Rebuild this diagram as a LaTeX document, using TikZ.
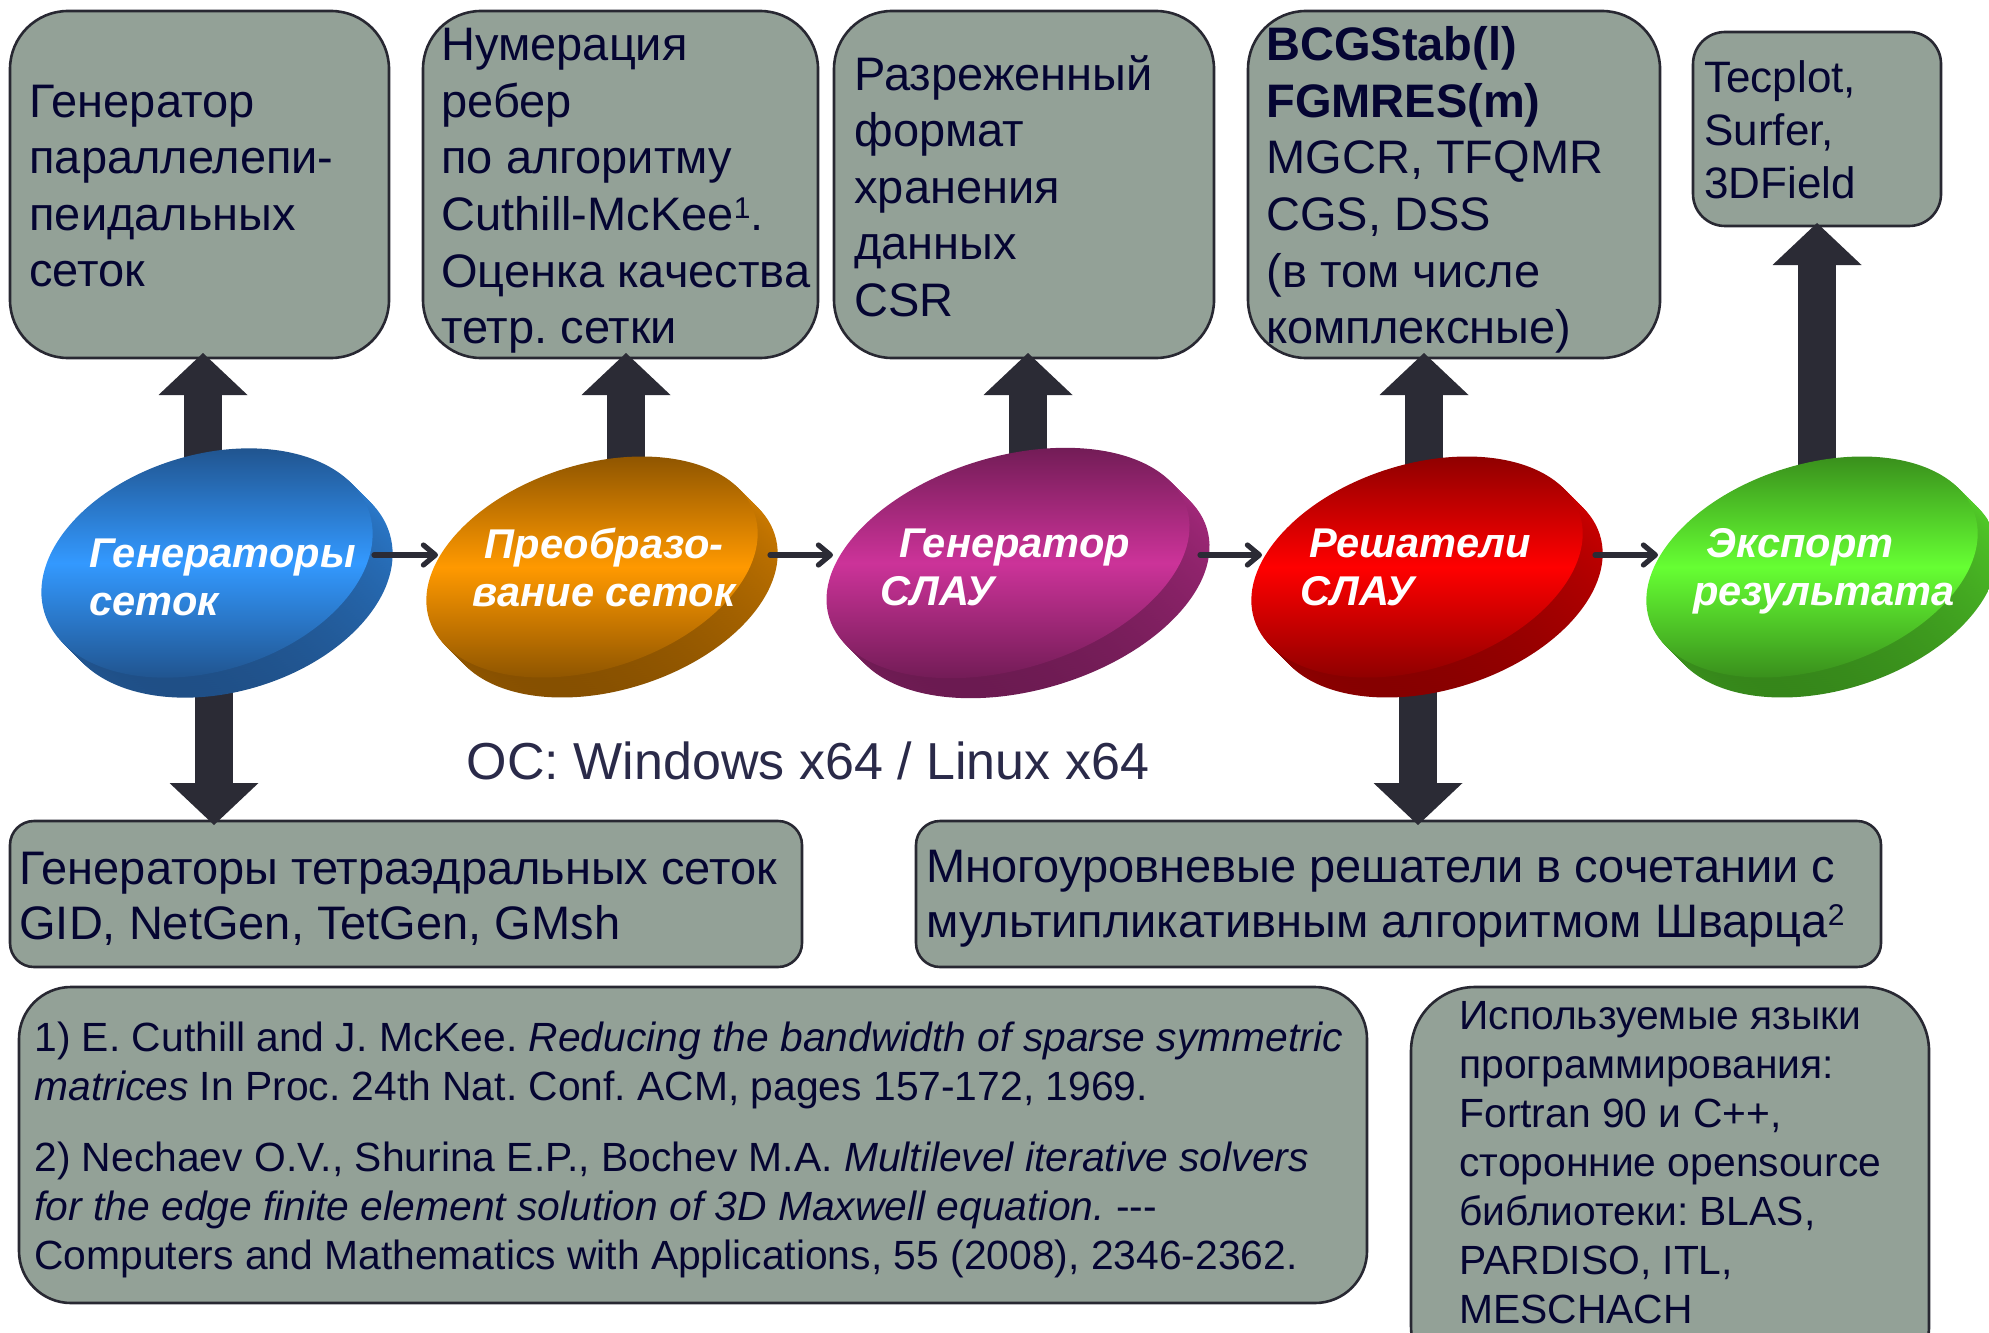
\documentclass[tikz,border=0pt]{standalone}
\usepackage{fontspec}
\setmainfont{Liberation Sans}
\usetikzlibrary{arrows.meta,calc}
\definecolor{boxfill}{RGB}{147,161,151}
\definecolor{boxline}{RGB}{40,40,50}
\definecolor{txtc}{RGB}{5,5,50}
\definecolor{arrc}{RGB}{43,43,53}
\definecolor{bluelight}{RGB}{51,153,255}\definecolor{bluedark}{RGB}{30,75,128}
\definecolor{orangelight}{RGB}{255,153,0}\definecolor{orangedark}{RGB}{128,76,0}
\definecolor{purplelight}{RGB}{204,51,153}\definecolor{purpledark}{RGB}{102,25,77}
\definecolor{redlight}{RGB}{255,0,0}\definecolor{reddark}{RGB}{128,0,0}
\definecolor{greenlight}{RGB}{102,255,51}\definecolor{greendark}{RGB}{51,128,25}
\colorlet{blueside}{bluelight!75!bluedark}
\colorlet{orangeside}{orangelight!75!orangedark}
\colorlet{purpleside}{purplelight!75!purpledark}
\colorlet{redside}{redlight!75!reddark}
\colorlet{greenside}{greenlight!75!greendark}
\newcommand{\sups}[1]{\raisebox{6pt}{\fontsize{15}{15}\selectfont #1}}
% #1 cx, #2 cy, #3 x radius, #4 y radius, #5 colour prefix, #6 tilt
\newcommand{\mydisc}[6]{%
  \begin{scope}[shift={(#1,#2)}]
    \foreach \k in {20,18,...,2}{%
      \shade[shift={(\k,\k)}, rotate=#6, top color=#5side, bottom color=#5dark]
        (0,0) ellipse [x radius=#3, y radius=#4];
    }
    \shade[rotate=#6, top color=#5dark, bottom color=#5dark, middle color=#5light]
      (0,0) ellipse [x radius=#3, y radius=#4];
  \end{scope}}
\frenchspacing
\begin{document}
\frenchspacing
\begin{tikzpicture}[x=0.5pt,y=-0.5pt,
  gbox/.style={draw=boxline, line width=1.3pt, fill=boxfill, inner sep=0pt, outer sep=0pt},
  btext/.style={anchor=west, align=left, inner sep=0pt, text=txtc, font=\fontsize{23.5}{28.3}\selectfont},
  dtext/.style={align=left, inner sep=0pt, text=white, font=\fontsize{20.8}{24}\selectfont\bfseries\itshape},
  blockarrow/.style={draw=arrc, line width=19pt, -{Triangle[length=21pt,width=44.5pt,line width=0pt]}},
  flow/.style={draw=arrc, line width=2.6pt, line cap=round, -{Straight Barb[length=6pt,width=10pt,round]}}
]
\useasboundingbox (0,0) rectangle (1989,1332);
\clip (0,0) rectangle (1989,1332);

% boxes
\node[gbox, rounded corners=29pt, minimum width=189.5pt, minimum height=173.5pt] (b1) at (199.5,184.5) {};
\node[gbox, rounded corners=29pt, minimum width=197.5pt, minimum height=173.5pt] (b2) at (620.5,184.5) {};
\node[gbox, rounded corners=29pt, minimum width=190pt, minimum height=173.5pt] (b3) at (1024,184.5) {};
\node[gbox, rounded corners=29pt, minimum width=206pt, minimum height=173.5pt] (b4) at (1454,184.5) {};
\node[gbox, rounded corners=16pt, minimum width=124pt, minimum height=97pt] (b5) at (1817,129) {};
\node[gbox, rounded corners=12pt, minimum width=396pt, minimum height=73pt] (b6) at (406,894) {};
\node[gbox, rounded corners=12pt, minimum width=482.5pt, minimum height=73pt] (b7) at (1398.5,894) {};
\node[gbox, rounded corners=26pt, minimum width=674pt, minimum height=158pt] (fn) at (693,1145) {};
\node[gbox, rounded corners=32pt, minimum width=259pt, minimum height=201.5pt] (lang) at (1670,1188.5) {};

% box texts
\node[btext] (t1) at (29,186) {Генератор\\параллелепи-\\пеидальных\\сеток};
\node[btext] (t2) at (441,191) {Нумерация\\ребер\\по алгоритму\\Cuthill-McKee\sups{1}.\\Оценка качества\\тетр. сетки};
\node[btext] (t3) at (854,186) {Разреженный\\формат\\хранения\\данных\\CSR};
\node[btext] (t4) at (1266,190) {\textbf{BCGStab(l)}\\\textbf{FGMRES(m)}\\MGCR, TFQMR\\CGS, DSS\\(в том числе\\комплексные)};
\node[btext, font=\fontsize{22}{26.5}\selectfont] (t5) at (1704,130) {Tecplot,\\Surfer,\\3DField};
\node[btext, font=\fontsize{23.5}{27.5}\selectfont] (t6) at (19,899) {Генераторы тетраэдральных сеток\\GID, NetGen, TetGen, GMsh};
\node[btext, font=\fontsize{23.5}{27.5}\selectfont] (t7) at (926,899) {Многоуровневые решатели в сочетании с\\мультипликативным алгоритмом Шварца\sups{2}};
\node[btext, font=\fontsize{20.4}{24.6}\selectfont] (tfn) at (34,1150) {1) E. Cuthill and J. McKee. \textit{Reducing the bandwidth of sparse symmetric}\\\textit{matrices} In Proc. 24th Nat. Conf. ACM, pages 157-172, 1969.\\[10.5pt]2) Nechaev O.V., Shurina E.P., Bochev M.A. \textit{Multilevel iterative solvers}\\\textit{for the edge finite element solution of 3D Maxwell equation.} {-}{-}{-}\\Computers and Mathematics with Applications, 55 (2008), 2346-2362.};
\node[btext, font=\fontsize{20.4}{24.5}\selectfont] (tlang) at (1459,1163) {Используемые языки\\программирования:\\Fortran 90 и C++,\\сторонние opensource\\библиотеки: BLAS,\\PARDISO, ITL,\\MESCHACH};
\node[inner sep=0pt, text=txtc!70!gray, font=\fontsize{26}{30}\selectfont] (os) at (808,761) {ОС: Windows x64 / Linux x64};

% arrow anchor points on the discs
\coordinate (u1) at (203,480);
\coordinate (u2) at (626,480);
\coordinate (u3) at (1028,480);
\coordinate (u4) at (1424,480);
\coordinate (u5) at (1817,480);
\coordinate (d1) at (214,650);
\coordinate (d4) at (1418,650);

% block arrows
\draw[blockarrow] (u1) -- ($(u1 |- b1.south)+(0,-5)$);
\draw[blockarrow] (u2) -- ($(u2 |- b2.south)+(0,-5)$);
\draw[blockarrow] (u3) -- ($(u3 |- b3.south)+(0,-5)$);
\draw[blockarrow] (u4) -- ($(u4 |- b4.south)+(0,-5)$);
\draw[blockarrow] (u5) -- ($(u5 |- b5.south)+(0,-3)$);
\draw[blockarrow] (d1) -- ($(d1 |- b6.north)+(0,4)$);
\draw[blockarrow] (d4) -- ($(d4 |- b7.north)+(0,4)$);

% discs
\mydisc{207}{563}{85pt}{54pt}{blue}{17}
\mydisc{592}{567}{85.5pt}{51pt}{orange}{18}
\mydisc{1008}{563}{93.5pt}{53pt}{purple}{17}
\mydisc{1417}{567}{85.5pt}{51pt}{red}{18}
\mydisc{1812}{567}{85.5pt}{51pt}{green}{18}

% disc texts
\node[dtext, anchor=west] (g1) at (89,577) {Генераторы\\сеток};
\node[dtext, align=center] (g2) at (604,567) {Преобразо-\\вание сеток};
\node[dtext, anchor=west] (g3) at (880,567) {\hspace*{9.5pt}Генератор\\СЛАУ};
\node[dtext, anchor=west] (g4) at (1300,567) {\hspace*{4.5pt}Решатели\\СЛАУ};
\node[dtext, anchor=west] (g5) at (1693,571) {\hspace*{6.5pt}Экспорт\\результата};

% flow arrows
\coordinate (h1s) at (374,555); \coordinate (h1e) at (438,555);
\coordinate (h2s) at (770,555); \coordinate (h2e) at (833,555);
\coordinate (h3s) at (1200,555); \coordinate (h3e) at (1262,555);
\coordinate (h4s) at (1595,555); \coordinate (h4e) at (1658,555);
\draw[flow] (h1s) -- (h1e);
\draw[flow] (h2s) -- (h2e);
\draw[flow] (h3s) -- (h3e);
\draw[flow] (h4s) -- (h4e);
\end{tikzpicture}
\end{document}
